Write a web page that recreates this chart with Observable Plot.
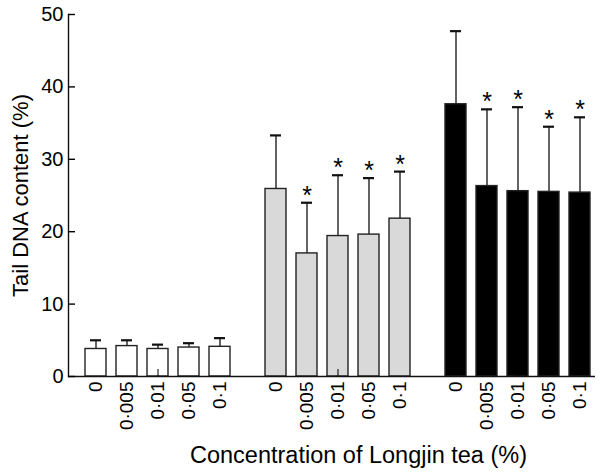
<!DOCTYPE html>
<html><head><meta charset="utf-8">
<script src="https://cdn.jsdelivr.net/npm/d3@7"></script>
<script src="https://cdn.jsdelivr.net/npm/@observablehq/plot@0.6"></script>
<style>body{margin:0;background:#fff} svg{display:block}</style>
</head><body><div id="chart"></div>
<script>
// Groups (white, grey, black bars) and tea concentrations (%)
const groups = ["I", "II", "III"];
const concentrations = ["0", "0·005", "0·01", "0·05", "0·1"];
const groupFills = ["#ffffff", "#d9d9d9", "#000000"];

// Mean tail DNA content (%) per group
const meansI = [3.8, 4.2, 3.8, 4.0, 4.1];
const meansII = [25.9, 17.0, 19.4, 19.6, 21.8];
const meansIII = [37.6, 26.3, 25.6, 25.5, 25.4];
// Standard deviation (upper error bar)
const sdI = [1.2, 0.8, 0.6, 0.6, 1.2];
const sdII = [7.4, 7.0, 8.4, 7.8, 6.5];
const sdIII = [10.1, 10.6, 11.6, 9.0, 10.4];
// Significance marks (*)
const sigI = [false, false, false, false, false];
const sigII = [false, true, true, true, true];
const sigIII = [false, true, true, true, true];

const yTicks = [0, 10, 20, 30, 40, 50];
const yTitle = "Tail DNA content (%)";
const xTitle = "Concentration of Longjin tea (%)";

const means = [meansI, meansII, meansIII];
const sds = [sdI, sdII, sdIII];
const sigs = [sigI, sigII, sigIII];
const rows = [];
groups.forEach((g, gi) => concentrations.forEach((c, ci) => rows.push({
  group: g, conc: c, mean: means[gi][ci], sd: sds[gi][ci], sig: sigs[gi][ci]
})));
const errTop = d => d.mean + d.sd;

const plot = Plot.plot({
  width: 608, height: 472,
  marginLeft: 68, marginRight: 0, marginTop: 14, marginBottom: 96,
  style: {fontFamily: "'Liberation Sans', Arial, sans-serif", fontSize: "19px", color: "#000", background: "#fff", overflow: "visible"},
  fx: {domain: groups, paddingInner: 0, paddingOuter: 0, axis: null, label: null},
  x: {domain: concentrations, paddingInner: 0.3125, paddingOuter: 0.5, axis: null, label: null},
  y: {domain: [0, 50], label: null},
  color: {domain: groups, range: groupFills},
  marks: [
    Plot.barY(rows, {fx: "group", x: "conc", y: "mean", fill: "group", stroke: "#222", strokeWidth: 1.4}),
    Plot.ruleX(rows, {fx: "group", x: "conc", y1: "mean", y2: errTop, stroke: "#222", strokeWidth: 1.4}),
    Plot.tickY(rows, {fx: "group", x: "conc", y: errTop, stroke: "#111", strokeWidth: 2.2, insetLeft: 5, insetRight: 5}),
    Plot.text(rows.filter(d => d.sig), {fx: "group", x: "conc", y: errTop, text: () => "*", fontSize: 25, dy: -7}),
    Plot.ruleY(groups.slice(0, 2), {fx: d => d, y: () => 0, stroke: "#111", strokeWidth: 1.4}),
    Plot.ruleY(groups.slice(2), {fx: d => d, y: () => 0, stroke: "#111", strokeWidth: 1.4, insetRight: 13}),
    Plot.frame({anchor: "left", facetAnchor: "left", stroke: "#111", strokeWidth: 1.4}),
    Plot.axisY({ticks: yTicks, tickSize: -7, tickPadding: 12, label: null, fontSize: 20, strokeWidth: 1.4}),
    Plot.axisX({ticks: ["0·01"], tickSize: -7, tickFormat: () => "", label: null}),
    Plot.axisX({tickRotate: -90, tickSize: 0, tickPadding: 5, label: null, fontSize: 19}),
    Plot.text([yTitle], {fx: () => groups[0], frameAnchor: "left", rotate: -90, textAnchor: "middle", lineAnchor: "top", dx: -56, fontSize: 22}),
    Plot.text([xTitle], {fx: () => groups[1], frameAnchor: "bottom", lineAnchor: "middle", dy: 79, dx: 20, fontSize: 23.5})
  ]
});
document.getElementById("chart").appendChild(plot);
</script>
</body></html>
